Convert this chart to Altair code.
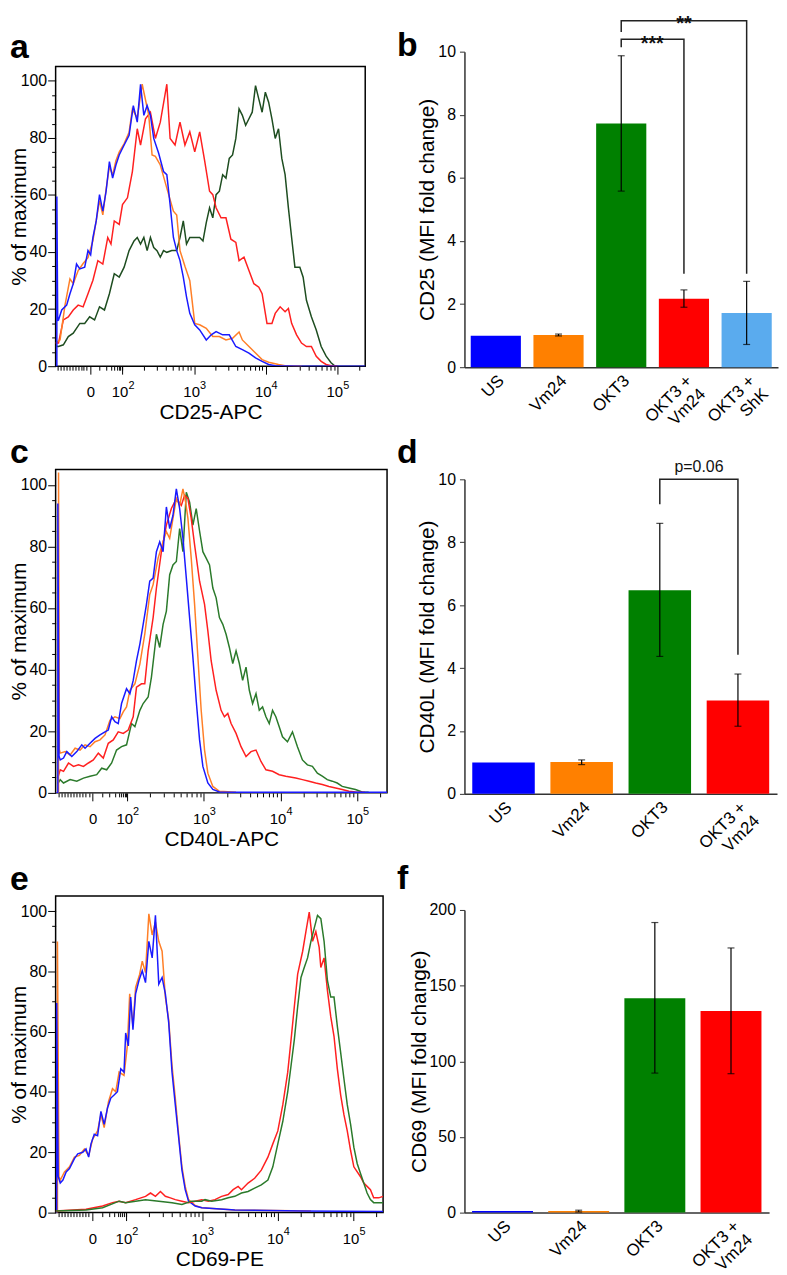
import math
import altair as alt
import pandas as pd

FONT = "Liberation Sans"

# ---------------- flow histograms: (display position in decades, % of maximum) ----------------
A_GREEN = [(1.066,7),(1.106,6.9),(1.174,7.5),(1.243,10.4),(1.312,11.6),(1.404,15),(1.472,15),(1.541,17.3),(1.61,16.2),(1.679,20.8),(1.748,19.7),(1.817,25.4),(1.885,32.4),(1.954,31.2),(2.023,34.7),(2.092,40.5),(2.161,43.9),(2.206,45.1),(2.252,42.8),(2.298,45.1),(2.344,40.5),(2.39,45.1),(2.436,41.6),(2.482,40.5),(2.528,38.2),(2.573,40.5),(2.619,39.9),(2.688,40.5),(2.757,40.5),(2.803,45.1),(2.849,50.9),(2.894,42.8),(2.94,45.1),(3.009,45.1),(3.078,45.1),(3.124,43.9),(3.17,50.3),(3.216,55.5),(3.261,52),(3.307,60.1),(3.353,61.3),(3.399,67.1),(3.445,65.9),(3.491,72.8),(3.537,74),(3.583,79.8),(3.628,90.2),(3.674,87.9),(3.72,84.4),(3.766,86.7),(3.812,89),(3.858,98.3),(3.904,93.6),(3.95,89),(3.995,96),(4.041,92.5),(4.087,86.7),(4.133,79.8),(4.179,83.2),(4.225,72.8),(4.271,67.1),(4.317,55.5),(4.362,45.1),(4.408,34.7),(4.477,34.7),(4.523,31.2),(4.569,23.1),(4.638,17.3),(4.706,12.7),(4.775,6.9),(4.844,3.5),(4.913,1.2),(4.959,0.2),(5.0,0)]
A_RED = [(1.066,8.1),(1.106,8.1),(1.174,16.2),(1.243,17.3),(1.312,19.7),(1.381,21.4),(1.45,20.8),(1.518,25.4),(1.587,30.1),(1.656,37),(1.725,35.8),(1.794,45.1),(1.839,42.8),(1.885,50.9),(1.954,49.7),(2.0,56.6),(2.069,59),(2.138,68.2),(2.206,83.2),(2.252,77.5),(2.321,86.7),(2.39,89),(2.459,79.8),(2.528,85.5),(2.619,98.8),(2.665,79.8),(2.734,77.5),(2.803,85.5),(2.872,77.5),(2.94,82.1),(3.009,75.1),(3.078,82.1),(3.147,72),(3.216,61.3),(3.261,60.1),(3.307,55.5),(3.376,52),(3.445,52),(3.514,44.5),(3.583,43.4),(3.628,37),(3.697,38.2),(3.766,33.5),(3.835,28.9),(3.904,27.7),(3.95,25.4),(4.018,15),(4.087,15),(4.133,18.5),(4.202,20.8),(4.271,19.1),(4.317,20.2),(4.362,15),(4.431,11),(4.5,8.1),(4.569,6.9),(4.638,6.9),(4.706,3.5),(4.775,1.7),(4.844,0.6),(4.913,0.2),(5.0,0)]
A_ORANGE = [(1.066,8),(1.128,9.2),(1.197,21.4),(1.266,30.6),(1.312,28.9),(1.381,33.5),(1.45,36),(1.518,38),(1.587,44),(1.633,51),(1.679,58),(1.725,53),(1.771,62),(1.817,70),(1.862,67),(1.908,72),(1.954,75),(2.023,78),(2.092,82),(2.138,90),(2.206,87),(2.275,98.8),(2.367,87.9),(2.413,74),(2.459,73.5),(2.528,70.5),(2.619,62.4),(2.711,54.3),(2.757,53),(2.803,40.5),(2.872,35),(2.94,30),(3.009,15),(3.078,14.5),(3.17,13.3),(3.261,10.4),(3.353,10.4),(3.445,9.2),(3.537,9.8),(3.628,12),(3.674,9.2),(3.766,6.9),(3.858,4.6),(3.95,2.3),(4.041,1.4),(4.179,0.6),(4.271,0.2),(4.5,0)]
A_BLUE = [(1.066,0),(1.083,0),(1.083,59.5),(1.095,16),(1.106,16.2),(1.151,19.7),(1.22,21.4),(1.266,25.4),(1.312,28.9),(1.358,35.8),(1.404,34.1),(1.472,34.7),(1.518,40.5),(1.555,39),(1.587,45.1),(1.633,50.9),(1.679,60.1),(1.725,54.3),(1.771,61.3),(1.817,71.7),(1.862,65.9),(1.908,70.5),(1.954,74),(2.023,77.5),(2.092,80.9),(2.151,91.3),(2.206,85.5),(2.252,98.8),(2.298,87.9),(2.344,91.3),(2.39,87.9),(2.436,79.8),(2.505,74.6),(2.573,68.2),(2.619,67.1),(2.665,56.6),(2.711,45.1),(2.757,40.5),(2.803,37),(2.849,31.2),(2.894,24.3),(2.94,18.5),(3.009,14.5),(3.078,12.7),(3.17,9.2),(3.239,11),(3.307,12.1),(3.399,11),(3.491,11),(3.583,6.9),(3.674,5.8),(3.766,4.6),(3.858,2.9),(3.95,1.7),(4.041,0.6),(4.133,0.2),(4.5,0),(5.39,0)]

C_GREEN = [(1.095,3),(1.126,4.3),(1.169,3.2),(1.255,4.3),(1.342,3.8),(1.429,4.8),(1.515,5.4),(1.602,5.9),(1.667,8),(1.732,7.5),(1.797,9.7),(1.861,13.9),(1.926,15),(1.991,15.6),(2.056,22.5),(2.1,21.5),(2.165,26.8),(2.208,29),(2.273,31.1),(2.316,37.6),(2.381,51.5),(2.424,47.2),(2.468,54.7),(2.511,59),(2.554,70.8),(2.597,74),(2.641,75.1),(2.684,85.8),(2.727,78.3),(2.771,97.6),(2.814,94.4),(2.857,86.9),(2.9,92.3),(2.944,85),(2.987,78.3),(3.03,76.2),(3.074,74),(3.117,66.5),(3.16,63.3),(3.203,56.9),(3.247,54.7),(3.29,51.5),(3.333,47.2),(3.377,42),(3.42,46.1),(3.463,42),(3.506,36.5),(3.55,40.8),(3.593,33.3),(3.636,29),(3.68,32.2),(3.723,26.8),(3.766,27.9),(3.81,24.7),(3.853,22.5),(3.896,26.8),(3.939,24.7),(3.983,21.5),(4.026,18.2),(4.091,16.6),(4.156,19.8),(4.221,15),(4.286,10.7),(4.351,9.1),(4.416,8.6),(4.481,6.4),(4.545,5.4),(4.61,4.3),(4.675,3.8),(4.74,3.2),(4.805,2.1),(4.892,1.6),(4.978,1.1),(5.065,0.3),(5.15,0.2)]
C_RED = [(1.095,5),(1.126,7.5),(1.169,7),(1.234,9.7),(1.299,8.6),(1.364,9.1),(1.429,8.6),(1.494,9.7),(1.558,10.7),(1.623,12.9),(1.688,11.3),(1.753,16.1),(1.818,17.2),(1.883,19.8),(1.948,19.3),(2.013,20.4),(2.078,24.7),(2.121,34.3),(2.186,35.4),(2.229,35.4),(2.273,46.1),(2.338,56.9),(2.381,66.5),(2.446,78.3),(2.511,86.9),(2.576,92.3),(2.641,95.5),(2.706,93.3),(2.749,96.6),(2.792,95.5),(2.835,89.1),(2.879,80.5),(2.944,68.7),(3.009,61.2),(3.052,52.6),(3.095,42.9),(3.16,33.3),(3.225,26.8),(3.268,24.7),(3.312,25.8),(3.355,22.5),(3.42,19.3),(3.485,15),(3.55,11.8),(3.615,13.4),(3.68,13.9),(3.745,10.2),(3.81,7.5),(3.896,7),(3.983,5.9),(4.069,5.4),(4.199,4.8),(4.286,4.3),(4.372,3.8),(4.459,3.2),(4.545,2.7),(4.632,2.1),(4.719,1.6),(4.805,1.1),(4.892,0.5),(4.978,0.3),(5.1,0.2)]
C_ORANGE = [(1.066,0),(1.104,0),(1.104,104),(1.115,14),(1.126,12.9),(1.19,13.4),(1.255,12.3),(1.32,14.5),(1.385,13.9),(1.45,15.6),(1.515,15),(1.58,16.6),(1.645,17.2),(1.71,18.8),(1.775,23.6),(1.84,24.7),(1.905,24.1),(1.948,26.3),(1.991,27.9),(2.035,33.3),(2.1,35.4),(2.165,41.8),(2.229,51.5),(2.294,64.4),(2.338,67.6),(2.403,76.2),(2.468,81.5),(2.511,84.8),(2.554,82.6),(2.597,89.1),(2.641,95.5),(2.684,93.3),(2.727,98.7),(2.762,94.4),(2.792,89.1),(2.835,76.2),(2.879,61.2),(2.922,44),(2.965,26.8),(3.009,13.9),(3.052,6.4),(3.117,2.1),(3.203,0.5),(3.42,0.2)]
C_BLUE = [(1.066,0),(1.095,0),(1.095,93.9),(1.11,12),(1.126,10.7),(1.169,11.3),(1.212,13.4),(1.277,11.8),(1.342,13.4),(1.407,15.6),(1.45,14.5),(1.515,16.1),(1.58,17.7),(1.645,18.8),(1.71,19.8),(1.753,20.4),(1.797,24.7),(1.84,23.1),(1.883,22.5),(1.926,29),(1.991,33.8),(2.035,32.2),(2.078,36.5),(2.121,42.9),(2.165,48.3),(2.208,54.7),(2.251,61.2),(2.294,68.7),(2.338,69.7),(2.381,78.3),(2.424,81.5),(2.468,78.3),(2.511,92.8),(2.554,85.8),(2.597,90.1),(2.641,98.7),(2.684,92.3),(2.727,82.6),(2.771,69.7),(2.814,56.9),(2.857,44),(2.9,30),(2.944,17.2),(2.987,8.6),(3.052,3.2),(3.117,1.1),(3.203,0.3),(3.42,0.2),(5.39,0.2)]

E_ORANGE = [(1.066,0),(1.09,0),(1.09,89.9),(1.11,12),(1.127,10.8),(1.183,13.5),(1.249,15.2),(1.314,18.4),(1.38,19),(1.445,21.1),(1.502,19),(1.555,24.4),(1.62,27.1),(1.664,32.5),(1.707,28.2),(1.764,36.8),(1.817,41.1),(1.86,40.1),(1.904,46.6),(1.969,45.5),(2.013,55.3),(2.044,72.6),(2.087,61.8),(2.122,74.7),(2.175,79),(2.21,83.4),(2.253,79.6),(2.297,99.1),(2.341,92.1),(2.384,96.4),(2.428,90),(2.472,86.7),(2.515,71.5),(2.559,64),(2.603,48.8),(2.646,38),(2.69,26),(2.734,15.2),(2.777,8.7),(2.821,4.3),(2.908,2.4),(2.996,1.6),(3.432,0.9),(4.437,0.5)]
E_BLUE = [(1.066,0),(1.08,0),(1.08,69.5),(1.1,12),(1.127,9.8),(1.162,10.8),(1.205,13.5),(1.249,14.6),(1.314,17.9),(1.358,19.5),(1.424,20),(1.467,21.1),(1.502,18.4),(1.533,22.8),(1.576,26),(1.62,25.5),(1.664,33.6),(1.707,29.3),(1.751,34.7),(1.795,38),(1.838,39),(1.882,40.1),(1.926,47.7),(1.969,46.6),(1.991,59.6),(2.026,55.3),(2.057,71.5),(2.087,60.7),(2.122,72.6),(2.166,77),(2.21,80.2),(2.253,76.3),(2.297,90),(2.341,84.5),(2.384,98.6),(2.428,75.8),(2.472,78),(2.515,72.6),(2.559,63),(2.603,46.6),(2.646,35.8),(2.69,25),(2.734,14.1),(2.777,7.6),(2.821,3.8),(2.908,2.2),(2.996,1.6),(3.432,0.9),(4.306,0.5),(5.39,0.4)]
E_RED = [(1.066,0.5),(1.467,1.1),(1.686,2.2),(1.817,3.3),(1.904,3.8),(1.991,3.3),(2.122,4.3),(2.253,5.4),(2.319,6.5),(2.384,5.4),(2.45,7),(2.515,5.4),(2.581,4.9),(2.646,4.3),(2.734,3.8),(2.821,3.3),(2.908,3.8),(2.996,4.3),(3.083,3.8),(3.17,4.3),(3.258,5.4),(3.345,6),(3.41,7.6),(3.476,8.7),(3.52,7.6),(3.607,9.8),(3.694,11.4),(3.782,14.1),(3.869,18.4),(3.934,22.8),(4.0,27.1),(4.066,35.8),(4.131,46.6),(4.175,57.4),(4.218,68.3),(4.262,79.1),(4.328,86.7),(4.371,93.2),(4.415,99.7),(4.459,90),(4.502,93.2),(4.546,88),(4.568,81.3),(4.611,84.5),(4.655,73.7),(4.699,65),(4.742,58.5),(4.786,47.7),(4.83,39),(4.873,32.5),(4.917,27.1),(4.961,20.6),(5.004,15.2),(5.092,11.9),(5.135,9.8),(5.179,8.7),(5.223,7.6),(5.266,4.9),(5.332,4.9),(5.39,5.4)]
E_GREEN = [(1.066,0.5),(1.467,0.9),(1.686,1.6),(1.904,3.8),(1.991,3.3),(2.122,3.8),(2.253,4.3),(2.428,3.8),(2.603,3.3),(2.734,2.7),(2.864,3.8),(2.996,3.8),(3.039,4.3),(3.127,3.8),(3.258,4.3),(3.345,4.9),(3.432,5.4),(3.52,6.5),(3.607,7),(3.694,8.1),(3.782,9.2),(3.869,10.8),(3.934,15.2),(4.0,22.8),(4.066,30.3),(4.131,40.1),(4.175,48.8),(4.218,57.4),(4.262,68.3),(4.306,78),(4.349,81.3),(4.393,84.5),(4.437,90),(4.48,94.3),(4.524,98.6),(4.568,97.5),(4.611,90),(4.655,77),(4.699,71.5),(4.742,71.5),(4.786,61.8),(4.83,53.1),(4.873,44.4),(4.917,35.8),(4.961,29.3),(5.004,21.7),(5.048,16.3),(5.092,13),(5.135,9.8),(5.179,6.5),(5.223,4.3),(5.266,3.3),(5.332,3.3),(5.39,3.3)]

# ---------------- bar data ----------------
CATS_5 = ["US", "Vm24", "OKT3", "OKT3 +\nVm24", "OKT3 +\nShK"]
CATS_4 = ["US", "Vm24", "OKT3", "OKT3 +\nVm24"]
BAR_COLORS = ["#0000ff", "#ff8000", "#008000", "#ff0000", "#5aabee"]

CD25_MEAN = [1.0, 1.02, 7.72, 2.17, 1.72]
CD25_LO = [None, 0.99, 5.58, 1.90, 0.72]
CD25_HI = [None, 1.05, 9.87, 2.45, 2.72]

CD40L_MEAN = [1.0, 1.01, 6.47, 2.97]
CD40L_LO = [None, 0.93, 4.37, 2.15]
CD40L_HI = [None, 1.08, 8.60, 3.81]

CD69_MEAN = [1.0, 1.0, 141.6, 133.3]
CD69_LO = [None, 0.4, 92.2, 91.8]
CD69_HI = [None, 1.6, 191.7, 174.9]

# significance brackets: (id, category, y)
CD25_BRACKETS = [("b1", "OKT3", 10.14), ("b1", "OKT3", 10.39), ("b1", "OKT3 +\nVm24", 10.39), ("b1", "OKT3 +\nVm24", 2.96),
                 ("b2", "OKT3", 10.62), ("b2", "OKT3", 10.98), ("b2", "OKT3 +\nShK", 10.98), ("b2", "OKT3 +\nShK", 2.96)]
CD40L_BRACKETS = [("b1", "OKT3", 9.21), ("b1", "OKT3", 10.0), ("b1", "OKT3 +\nVm24", 10.0), ("b1", "OKT3 +\nVm24", 4.42)]

BLUE, ORANGE, RED = "#1a1aff", "#ff7f27", "#ff2020"
GREEN_A, GREEN = "#1e4d20", "#2b7a2b"

# ---------------- flow axes ----------------
U_DOMAIN = [1.066, 5.39]
DECADES = [2, 3, 4, 5]
MAJOR_U = [1.55] + DECADES
NEG_U = [1.10, 1.14, 1.18, 1.22, 1.26, 1.30, 1.34, 1.38, 1.42, 1.46, 1.50]
LIN_U = [1.68, 1.77, 1.84, 1.89, 1.92, 1.95, 1.97, 1.99]
DEC_U = [round(n + math.log10(k), 3) for n in (2, 3, 4) for k in range(2, 10)] + [round(5 + math.log10(2), 3)]
X_TICKS = sorted(MAJOR_U + NEG_U + LIN_U + DEC_U)
Y_TICKS = list(range(0, 101, 5))


def letter_layer(letter, x, y):
    return alt.Chart(pd.DataFrame({"t": [letter]})).mark_text(
        font=FONT, fontSize=34, fontWeight="bold", align="left", baseline="alphabetic", color="black"
    ).encode(text="t:N", x=alt.value(x), y=alt.value(y))


def flow_panel(series, width, height, xtitle, letter, letter_y):
    base_axis = alt.Axis(orient="bottom", values=X_TICKS,
                         labelExpr="datum.value == 1.55 ? '0' : indexof([2,3,4,5], datum.value) >= 0 ? '10' : ''",
                         labelOverlap=False, labelFlush=False, labelFontSize=15, labelPadding=11,
                         labelOffset={"condition": {"test": "datum.value >= 2", "value": -3}, "value": 0},
                         tickSize={"condition": {"test": "indexof([1.55,2,3,4,5], datum.value) >= 0", "value": 8}, "value": 4},
                         tickColor="black", tickWidth=1, domain=False, grid=False,
                         title=xtitle, titleFontSize=21, titlePadding=2)
    exp_axis = alt.Axis(orient="bottom", values=DECADES, labelExpr="datum.value", labelOverlap=False,
                        labelFlush=False, labelFontSize=11, labelPadding=13, labelOffset=8.5, ticks=False,
                        tickSize=0, domain=False, grid=False, title=None)
    yaxis = alt.Axis(values=Y_TICKS, labelExpr="datum.value % 20 == 0 ? datum.label : ''", labelOverlap=False,
                     labelFontSize=16, labelPadding=1,
                     tickSize={"condition": {"test": "datum.value % 20 == 0", "value": 8}, "value": 4},
                     tickColor="black", tickWidth=1, domain=False, grid=False,
                     title="% of maximum", titleFontSize=21, titleAngle=270, titleX=-26, titleY=height / 2,
                     titleAlign="center", titleBaseline="bottom")
    xscale = alt.Scale(domain=U_DOMAIN, nice=False, zero=False)
    layers = []
    for k, (pts, color) in enumerate(series):
        df = pd.DataFrame(pts, columns=["u", "pct"])
        df["i"] = range(len(df))
        if k == 0:
            xenc = alt.X("u:Q", scale=xscale, axis=base_axis)
        elif k == 1:
            xenc = alt.X("u:Q", scale=xscale, axis=exp_axis)
        else:
            xenc = alt.X("u:Q", scale=xscale, axis=None)
        layers.append(alt.Chart(df).mark_line(color=color, strokeWidth=1.5, clip=True).encode(
            x=xenc,
            y=alt.Y("pct:Q", scale=alt.Scale(domain=[0, 105], nice=False), axis=yaxis),
            order="i:Q"))
    layers.append(letter_layer(letter, -46, letter_y))
    return alt.layer(*layers).resolve_axis(x="independent").properties(width=width, height=height)


def bar_panel(cats, means, lo, hi, ydomain, yrange, yvalues, ytitle, width, height, letter, letter_y,
              brackets=None, texts=()):
    xs = alt.Scale(paddingInner=0.2, paddingOuter=0.1)
    xaxis = alt.Axis(title=None, labelAngle=315, labelAlign="right", labelBaseline="top",
                     labelExpr="split(datum.label, '\\n')", ticks=False, domainColor="#333", domainWidth=1.5,
                     labelFontSize=17, labelPadding=5, labelLineHeight=19)
    ys = alt.Scale(domain=ydomain, range=yrange, nice=False)
    yaxis = alt.Axis(values=yvalues, title=ytitle, titleFontSize=21, titlePadding=0, labelFontSize=16,
                     labelPadding=4, tickSize=5, tickColor="#333", domainColor="#333", domainWidth=1.5, grid=False)

    def X(bp=None):
        kw = dict(sort=cats, scale=xs, axis=xaxis)
        if bp is not None:
            kw["bandPosition"] = bp
        return alt.X("cat:N", **kw)

    def Y(f):
        return alt.Y(f"{f}:Q", scale=ys, axis=yaxis)

    df = pd.DataFrame({"cat": cats, "mean": means, "lo": lo, "hi": hi})
    bars = alt.Chart(df).mark_bar().encode(
        x=X(), y=Y("mean"),
        color=alt.Color("cat:N", scale=alt.Scale(domain=cats, range=BAR_COLORS[:len(cats)]), legend=None))
    err = alt.Chart(df).mark_rule(color="black", strokeWidth=1.2).encode(x=X(), y=Y("lo"), y2="hi:Q")
    cap_lo = alt.Chart(df).mark_tick(color="black", size=7, thickness=1.2, orient="horizontal").encode(x=X(), y=Y("lo"))
    cap_hi = alt.Chart(df).mark_tick(color="black", size=7, thickness=1.2, orient="horizontal").encode(x=X(), y=Y("hi"))
    layers = [bars, err, cap_lo, cap_hi]
    if brackets:
        bdf = pd.DataFrame(brackets, columns=["id", "cat", "y"])
        bdf["i"] = range(len(bdf))
        layers.append(alt.Chart(bdf).mark_line(color="#222", strokeWidth=1.5).encode(
            x=X(), y=Y("y"), detail="id:N", order="i:Q"))
    for label, cat, bp, dx, yv, fs, fw in texts:
        tdf = pd.DataFrame({"cat": [cat], "y": [yv], "label": [label]})
        layers.append(alt.Chart(tdf).mark_text(font=FONT, fontSize=fs, fontWeight=fw, baseline="alphabetic",
                                               align="center", color="#111", dx=dx).encode(
            x=X(bp), y=Y("y"), text="label:N"))
    layers.append(letter_layer(letter, -68, letter_y))
    return alt.layer(*layers).properties(width=width, height=height,
                                         view=alt.ViewBackground(stroke="transparent"))


pa = flow_panel([(A_GREEN, GREEN_A), (A_RED, RED), (A_ORANGE, ORANGE), (A_BLUE, BLUE)], 312, 302, "CD25-APC", "a", -9)
pb = bar_panel(CATS_5, CD25_MEAN, CD25_LO, CD25_HI, [0, 10], [303, -15], [0, 2, 4, 6, 8, 10],
               "CD25 (MFI fold change)", 316, 303, "b", -11, CD25_BRACKETS,
               [("***", "OKT3", 1.0, 6, 10.06, 20, "bold"), ("**", "OKT3 +\nVm24", 0.5, 0, 10.69, 20, "bold")])
pc = flow_panel([(C_GREEN, GREEN), (C_RED, RED), (C_ORANGE, ORANGE), (C_BLUE, BLUE)], 334, 326, "CD40L-APC", "c", -6)
pd_ = bar_panel(CATS_4, CD40L_MEAN, CD40L_LO, CD40L_HI, [0, 10], [327, 10], [0, 2, 4, 6, 8, 10],
                "CD40L (MFI fold change)", 315, 327, "d", -6, CD40L_BRACKETS,
                [("p=0.06", "OKT3", 1.0, 8, 10.22, 16, "normal")])
pe = flow_panel([(E_ORANGE, ORANGE), (E_BLUE, BLUE), (E_RED, RED), (E_GREEN, GREEN)], 330, 319, "CD69-PE", "e", -6)
pf = bar_panel(CATS_4, CD69_MEAN, CD69_LO, CD69_HI, [0, 200], [319, 14], [0, 50, 100, 150, 200],
               "CD69 (MFI fold change)", 307, 319, "f", -7)

chart = alt.concat(pa, pb, pc, pd_, pe, pf, columns=2, spacing={"row": 103, "column": 78}, bounds="flush").properties(
    padding=0
).configure(font=FONT).configure_view(stroke="black", strokeWidth=1.5).configure_axis(
    labelColor="black", titleColor="black", titleFontWeight="normal", labelFont=FONT, titleFont=FONT)

chart.save("out.html", embed_options={"renderer": "svg", "actions": False})
